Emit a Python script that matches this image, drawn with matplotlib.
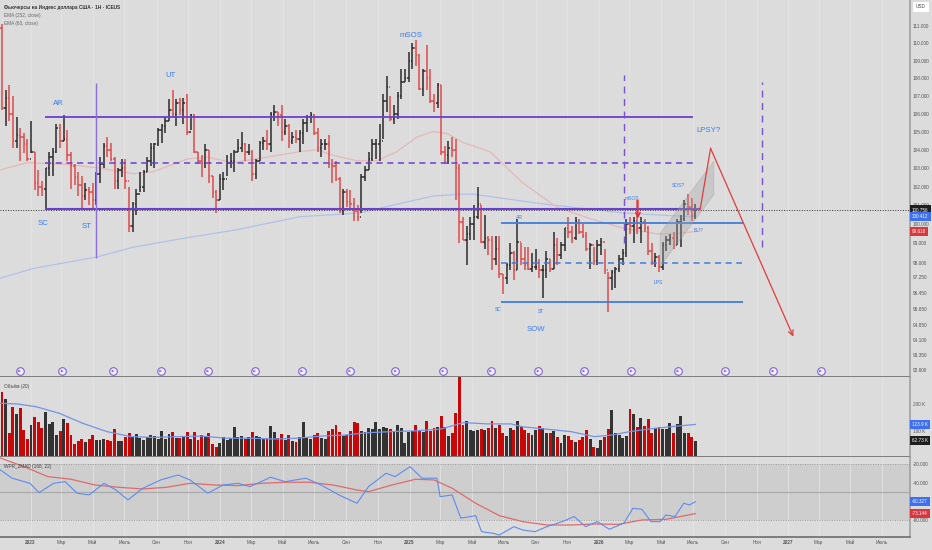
import numpy as np
import matplotlib
matplotlib.use("Agg")
import matplotlib.pyplot as plt
from matplotlib.patches import Polygon
from matplotlib.ticker import FixedLocator, FuncFormatter, NullLocator

plt.rcParams['font.family'] = ['Liberation Sans', 'DejaVu Sans']

# ---- weekly bars (DX futures), first bar = week of 2022-11-07 ----
first_open = 110.9
highs = [111.1, 107.3, 107.6, 107.0, 105.8, 105.2, 104.9, 104.6, 105.6, 103.9,
         102.9, 102.3, 103.0, 103.9, 104.1, 105.4, 105.4, 105.9, 105.1, 103.9,
         103.2, 102.8, 102.6, 102.2, 102.0, 102.2, 102.8, 103.6, 104.4, 104.7,
         104.4, 103.6, 103.0, 103.5, 103.5, 102.0, 101.2, 101.9, 102.8, 102.9,
         103.6, 104.4, 104.4, 105.2, 105.4, 105.8, 106.8, 107.3, 106.8, 106.9,
         106.9, 107.1, 106.0, 106.0, 103.9, 103.7, 104.3, 104.0, 102.6, 101.8,
         102.7, 102.8, 103.7, 103.8, 104.0, 104.6, 105.0, 104.4, 104.3, 104.0,
         103.5, 104.5, 104.7, 105.1, 106.1, 106.5, 106.1, 106.5, 105.7, 105.4,
         105.0, 105.1, 105.1, 105.7, 105.9, 106.1, 106.0, 105.2, 104.6, 104.6,
         104.8, 103.5, 103.4, 102.5, 101.9, 101.9, 101.8, 101.4, 101.0, 102.7,
         103.1, 103.9, 104.6, 104.6, 105.4, 107.1, 108.1, 107.0, 106.5, 107.2,
         108.5, 108.5, 109.5, 110.0, 110.2, 109.4, 108.5, 109.9, 108.5, 107.1,
         107.7, 107.6, 104.2, 104.5, 104.7, 104.6, 103.2, 100.4, 99.9, 100.4,
         101.0, 102.0, 101.0, 100.5, 99.4, 99.4, 99.4, 99.4, 97.4, 98.0,
         99.0, 98.6, 100.3, 99.0, 98.8, 98.8, 98.5, 98.7, 98.2, 97.9,
         98.6, 98.2, 99.6, 99.3, 99.1, 99.8, 100.4, 99.9, 100.4, 100.3,
         100.0, 99.6, 99.0, 98.8, 99.2, 99.3, 98.7, 97.5, 97.6, 97.8,
         98.4, 98.7, 100.3, 100.4, 100.4, 101.3, 100.4, 100.3, 99.9, 99.0,
         98.5, 98.4, 99.1, 99.4, 99.5, 99.6, 100.3, 100.5, 101.3, 101.6,
         101.4, 101.1]
lows = [106.2, 105.3, 105.6, 104.1, 104.1, 103.4, 103.8, 103.4, 103.8, 101.8,
        101.5, 101.5, 100.8, 102.6, 102.6, 103.8, 104.1, 104.5, 103.4, 101.9,
        102.1, 101.5, 100.8, 101.3, 101.0, 100.8, 101.0, 102.2, 103.0, 103.6,
        103.4, 101.9, 101.9, 102.5, 101.9, 99.6, 99.6, 100.5, 101.7, 101.7,
        102.8, 103.1, 103.0, 104.2, 104.4, 104.9, 105.6, 105.8, 105.3, 105.9,
        105.4, 104.8, 105.1, 103.8, 103.2, 102.5, 103.0, 102.2, 101.4, 100.6,
        101.3, 101.8, 102.6, 103.0, 102.8, 103.9, 103.9, 103.4, 103.7, 102.3,
        102.4, 103.4, 104.0, 104.0, 103.9, 105.6, 105.3, 104.5, 104.8, 104.1,
        104.3, 104.4, 103.9, 104.3, 105.0, 105.5, 104.8, 103.9, 103.6, 104.0,
        103.0, 102.2, 102.3, 100.6, 100.5, 100.9, 100.8, 100.2, 100.2, 100.6,
        102.3, 102.9, 103.4, 103.5, 103.4, 104.6, 106.1, 105.6, 105.4, 105.7,
        106.8, 107.8, 107.8, 108.5, 108.7, 107.3, 107.0, 107.3, 106.6, 106.1,
        106.3, 103.7, 103.2, 103.2, 103.6, 101.3, 99.0, 99.2, 97.9, 99.2,
        99.2, 100.3, 99.0, 98.7, 98.4, 97.6, 97.9, 97.2, 96.4, 96.9,
        97.6, 97.1, 97.6, 97.9, 97.6, 97.6, 97.5, 97.6, 97.2, 96.2,
        97.2, 97.5, 97.7, 97.9, 98.2, 98.6, 99.3, 99.0, 99.2, 99.5,
        99.3, 98.6, 97.7, 97.9, 97.9, 98.4, 97.4, 95.5, 96.6, 96.7,
        97.5, 97.9, 98.3, 99.5, 99.0, 99.5, 99.0, 99.6, 98.4, 97.9,
        97.8, 97.5, 97.6, 98.6, 98.9, 98.7, 98.9, 98.8, 100.2, 100.5,
        100.2, 100.3]
closes = [106.3, 106.9, 106.0, 104.5, 104.8, 104.7, 104.3, 103.5, 103.9, 102.2,
          102.0, 101.9, 103.0, 103.6, 103.9, 105.2, 104.5, 104.6, 103.7, 103.1,
          102.5, 102.1, 101.5, 101.8, 101.7, 101.3, 102.7, 103.2, 104.2, 104.0,
          103.5, 102.3, 102.9, 103.0, 102.3, 99.9, 101.1, 101.6, 102.0, 102.8,
          103.4, 104.1, 104.3, 105.1, 105.3, 105.6, 106.2, 106.0, 106.6, 106.2,
          106.6, 105.0, 105.9, 103.9, 103.4, 103.3, 104.0, 102.6, 101.7, 101.3,
          102.4, 102.4, 103.3, 103.4, 103.9, 104.1, 104.3, 103.9, 103.9, 102.7,
          103.4, 104.4, 104.5, 104.3, 106.0, 106.1, 105.9, 105.0, 105.3, 104.5,
          104.7, 104.6, 104.9, 105.5, 105.8, 105.9, 104.9, 104.1, 104.3, 104.3,
          103.2, 103.1, 102.4, 100.7, 101.7, 101.2, 101.1, 100.7, 100.4, 102.5,
          102.9, 103.5, 104.3, 104.3, 104.5, 106.7, 107.5, 105.7, 106.0, 107.0,
          107.8, 108.0, 109.0, 109.7, 109.3, 107.4, 108.4, 108.0, 106.7, 106.6,
          107.6, 103.9, 103.7, 104.1, 104.0, 103.0, 100.1, 99.2, 99.5, 100.0,
          100.4, 101.1, 99.1, 99.3, 99.2, 98.2, 98.7, 97.4, 97.2, 97.9,
          98.5, 97.6, 99.1, 98.2, 97.9, 97.7, 97.8, 97.8, 97.6, 97.6,
          98.2, 97.7, 98.9, 98.4, 98.9, 99.8, 99.6, 99.3, 100.2, 99.6,
          99.4, 98.7, 98.9, 98.1, 98.9, 99.1, 97.6, 97.2, 97.5, 97.7,
          98.2, 98.5, 100.0, 99.9, 100.2, 99.8, 100.1, 99.8, 98.6, 98.1,
          98.3, 97.8, 98.9, 99.2, 99.3, 98.9, 100.1, 100.3, 101.1, 100.9,
          100.5, 100.756]
volumes = [245, 221, 93, 191, 163, 187, 103, 70, 121, 153,
           134, 109, 171, 126, 132, 83, 100, 143, 128, 84,
           50, 63, 70, 58, 70, 85, 65, 65, 70, 65,
           63, 106, 60, 63, 78, 91, 75, 88, 73, 65,
           78, 84, 82, 70, 100, 70, 88, 94, 74, 72,
           78, 94, 68, 94, 65, 84, 78, 93, 49, 40,
           55, 75, 65, 74, 113, 75,
           82, 70, 75, 95, 80, 78, 70, 72, 118, 95,
           72, 88, 65, 85, 60, 58, 75, 134, 78, 70,
           85, 90, 72, 68, 100, 105, 122, 95, 80, 86,
           100, 134, 128, 100, 95, 110, 105, 134, 105, 115,
           110, 105, 100, 120, 110, 55, 95, 100, 122, 100,
           95, 138, 100, 110, 115,
           157, 115, 80, 93, 166, 320, 122, 137, 103, 99,
           103, 106, 103, 109, 138, 109, 122, 91, 82, 109,
           103, 137, 113, 103, 91, 84, 103, 118, 109, 91,
           91, 98, 78, 55, 84, 80, 65, 59, 65, 78,
           103, 68, 38, 34, 65, 78, 106, 178, 91, 84,
           72, 80, 181, 162, 115, 149, 118, 145, 91, 109,
           113, 106, 106, 128, 93, 126, 157, 93, 91, 78,
           62.73]

# ---- indicator lines (bar index, value) ----
ema252_idx = [-0.55, 8.5, 26.2, 36.1, 51.0, 64.2, 82.1, 98.6, 109.6, 118.7, 126.2, 129.8, 148.2, 171.1, 184.8, 191]
ema252 = [97.2, 97.7, 98.3, 98.8, 99.3, 99.7, 100.4, 100.6, 101.1, 101.5, 101.6, 101.6, 101.1, 100.6, 100.45, 100.412]
ema63_idx = [-0.55, 6.9, 17.9, 27.0, 36.1, 41.6, 51.0, 56.5, 63.6, 73.0, 82.1, 86.8, 91.2, 97.8,
             103.3, 108.8, 114.3, 118.7, 122.6, 127.0, 134.4, 143.5, 152.9, 162.0, 171.1, 180.4, 184.8, 191]
ema63 = [102.9, 103.3, 103.2, 103.0, 102.7, 102.8, 103.5, 103.6, 103.3, 103.6, 103.9, 104.0, 103.7, 103.4,
         103.4, 103.9, 104.7, 105.0, 104.9, 104.4, 103.9, 102.2, 100.9, 100.3, 99.8, 99.5, 99.5, 99.618]

vma_idx = [-0.55, 4.4, 9.4, 15.8, 22.3, 28.9, 35.5, 42.0, 48.5, 55.1, 61.7, 68.3, 74.8, 81.3, 87.9, 94.5,
           101.0, 107.5, 114.0, 120.7, 127.2, 133.7, 140.2, 143.5, 150.1, 156.7, 163.2, 168.0, 173.0, 179.6, 186.2, 191.0]
vma = [204, 201, 191, 166, 128, 97, 78, 75, 78, 80, 72, 72, 69, 72, 80, 84,
       93, 97, 100, 106, 131, 126, 126, 115, 106, 97, 78, 84, 97, 109, 118, 123.9]

wpr_idx = [-0.5, 2.8, 7.7, 10.2, 14.2, 17.4, 20.7, 24.0, 28.1, 31.4, 34.7, 38.8, 43.7, 48.5, 51.8, 56.7,
           60.9, 65.0, 68.3, 74.0, 78.0, 83.7, 87.9, 92.8, 97.8, 101.0, 105.8, 108.3, 112.4, 115.7, 119.8,
           120.7, 124.0, 126.4, 130.5, 132.1, 135.4, 137.0, 141.0, 143.5, 146.8, 150.1, 154.3, 157.6, 160.8,
           164.0, 167.3, 171.3, 173.8, 176.3, 178.8, 181.3, 182.9, 185.4, 187.8, 189.4, 191.0]
wpr = [-26, -35, -40.5, -50.6, -40.5, -38.7, -51.2, -53, -40.5, -47.7, -58.4, -45.8, -36.9, -31.5, -36.9, -51.2,
       -42.3, -40.5, -44.1, -34, -38.7, -35, -42.3, -53, -62, -44, -29.7, -33.3, -22.6, -35, -35,
       -54.9, -53, -78, -75.3, -92.6, -94.4, -96.2, -87.2, -90.8, -92.6, -87.2, -81.8, -76.3, -87.2,
       -81.8, -90, -83.5, -67.4, -68.5, -81.8, -81.8, -74.6, -76.3, -62, -63.8, -60.327]
wma_idx = [-0.5, 6.1, 12.6, 19.0, 25.6, 32.2, 38.8, 45.3, 51.8, 58.4, 65.0, 71.5, 78.0, 84.6, 91.2, 97.8,
           101.0, 107.4, 114.0, 119.0, 124.0, 130.5, 137.0, 143.5, 150.1, 156.7, 163.2, 169.7, 176.3, 182.9, 191.0]
wma = [-13.2, -22.6, -33.3, -36.1, -42.3, -44.8, -46.6, -44.8, -40.5, -42.3, -43, -40.5, -39.4, -39.4, -42.3, -47.7,
       -49.5, -42.3, -36.1, -36.9, -45.8, -62, -75.3, -81.8, -85.4, -85.4, -84.3, -84.7, -80, -79.3, -73.144]

event_idx = [4.85, 16.6, 30.6, 43.7, 56.7, 69.6, 82.6, 95.8, 108.4, 121.5, 134.6, 147.7, 160.3, 173.4,
             186.2, 199.3, 212.4, 225.5]

tick_dates = ["2023-01-01", "2023-03-01", "2023-05-01", "2023-07-01", "2023-09-01", "2023-11-01",
              "2024-01-01", "2024-03-01", "2024-05-01", "2024-07-01", "2024-09-01", "2024-11-01",
              "2025-01-01", "2025-03-01", "2025-05-01", "2025-07-01", "2025-09-01", "2025-11-01",
              "2026-01-01", "2026-03-01", "2026-05-01", "2026-07-01", "2026-09-01", "2026-11-01",
              "2027-01-01", "2027-03-01", "2027-05-01", "2027-07-01"]
tick_labels = ["2023", "Мар", "Май", "Июль", "Сен", "Ноя",
               "2024", "Мар", "Май", "Июль", "Сен", "Ноя",
               "2025", "Мар", "Май", "Июль", "Сен", "Ноя",
               "2026", "Мар", "Май", "Июль", "Сен", "Ноя",
               "2027", "Мар", "Май", "Июль"]
price_ticks = [111, 110, 109, 108, 107, 106, 105, 104, 103, 102, 101, 100, 99, 98,
               97.25, 96.45, 95.65, 94.85, 94.1, 93.35, 92.6]

# ---- colours ----
BG = '#dcdcdc'
GRID = '#e4e4e4'
UP = '#2b2b2b'
DN = '#e04a4a'
VUP = '#333333'
VDN = '#c80808'
PURPLE = '#6a3fcf'
BLUE_LN = '#3f7ddc'
BLUE_TX = '#3b7cf0'
RED = '#e03c3c'

W, H = 932, 550
fig = plt.figure(figsize=(W / 100, H / 100), dpi=100, facecolor=BG)
right = 910 / W
ax_p = fig.add_axes([0, 1 - 377 / H, right, 377 / H])
ax_v = fig.add_axes([0, 1 - 457.3 / H, right, 80.3 / H])
ax_w = fig.add_axes([0, 1 - 536.7 / H, right, 79.4 / H])

start = np.datetime64("2022-11-07")
tick_pos = [(np.datetime64(d) - start).astype(int) / 7.0 for d in tick_dates]

for ax in (ax_p, ax_v, ax_w):
    ax.set_facecolor(BG)
    ax.set_xlim(-0.551, 250.14)
    for s in ('left', 'top'):
        ax.spines[s].set_visible(False)
    ax.spines['right'].set_color('#a0a0a0')
    ax.spines['right'].set_linewidth(1.2)
    ax.spines['bottom'].set_color('#7d7d7d')
    ax.spines['bottom'].set_linewidth(1.4)
    ax.set_xticks(tick_pos)
    ax.grid(axis='x', color=GRID, lw=0.6, zorder=0)
    ax.set_axisbelow(True)
    ax.yaxis.tick_right()
    ax.tick_params(axis='y', length=0, labelsize=3.4, colors='#555555', pad=2.2)
    ax.tick_params(axis='x', length=0, labelbottom=False)

n = len(closes)
x = np.arange(n)
opens = [first_open] + closes[:-1]
up = np.array(closes) >= np.array(opens)
cols = [UP if u else DN for u in up]
vcols = [VUP if u else VDN for u in up]


def tag(ax, val, txt, fc):
    ax.annotate(txt, xy=(1, val), xycoords=ax.get_yaxis_transform(), xytext=(1.4, 0),
                textcoords='offset points', ha='left', va='center', fontsize=3.3, color='white',
                bbox=dict(boxstyle='square,pad=0.45', fc=fc, ec='none'), annotation_clip=False, zorder=10)


# ---- price panel ----
ax_p.set_yscale('log')
ax_p.set_ylim(92.28, 112.53)
ax_p.yaxis.set_major_locator(FixedLocator(price_ticks))
ax_p.yaxis.set_minor_locator(NullLocator())
ax_p.yaxis.set_major_formatter(FuncFormatter(lambda v, _: f"{v:.3f}"))

ax_p.plot(ema252_idx, ema252, color='#b1c1ea', lw=0.9, zorder=1)
ax_p.plot(ema63_idx, ema63, color='#e6b8b8', lw=0.9, zorder=1)
ax_p.axhline(closes[-1], color='#333333', ls=(0, (1, 1.6)), lw=0.7, zorder=2)

ax_p.vlines(x, lows, highs, colors=cols, lw=1.1, zorder=3)
ax_p.hlines(opens, x - 0.42, x, colors=cols, lw=1.1, zorder=3)
ax_p.hlines(closes, x, x + 0.42, colors=cols, lw=1.1, zorder=3)

# Wyckoff drawings
ax_p.hlines(105.83, 11.85, 190.4, color=PURPLE, lw=1.3, zorder=4)
ax_p.hlines(103.26, 11.85, 190.4, color=PURPLE, lw=1.1, ls=(0, (4, 3)), zorder=4)
ax_p.hlines(100.80, 11.85, 192.3, color=PURPLE, lw=1.5, zorder=4)
ax_p.vlines(25.9, 98.25, 107.72, color='#8c6fd8', lw=1.0, zorder=4)
ax_p.vlines([171.4, 209.3], [99.02, 98.83], [108.17, 107.8], color='#7a52d4', lw=1.0,
            ls=(0, (5, 4)), zorder=4)
ax_p.hlines([100.05, 95.98], 137.5, 204.1, color=BLUE_LN, lw=1.3, zorder=4)
ax_p.hlines(97.98, 137.5, 203.8, color=BLUE_LN, lw=1.1, ls=(0, (4, 3)), zorder=4)

ax_p.add_patch(Polygon([(181.3, 97.81), (181.3, 99.52), (196.1, 103.39), (196.1, 101.57)], closed=True,
                       fc='#a4a4a4', alpha=0.35, ec='#8c8c8c', lw=0.5, zorder=4))
ax_p.plot([192.3, 195.2], [100.76, 104.08], color=RED, lw=0.9, zorder=5)
ax_p.annotate('', xy=(218.0, 94.26), xytext=(195.2, 104.08),
              arrowprops=dict(arrowstyle='->', color=RED, lw=0.9, mutation_scale=9, shrinkA=0, shrinkB=0),
              zorder=5)
ax_p.annotate('', xy=(175.2, 100.31), xytext=(175.2, 101.27),
              arrowprops=dict(arrowstyle='->', color='#d93030', lw=1.0, mutation_scale=8, shrinkA=0, shrinkB=0),
              zorder=5)

big = [("AR", 15.5, 106.57), ("SC", 11.4, 100.05), ("ST", 23.3, 99.91), ("UT", 46.3, 108.17),
       ("mSOS", 112.6, 110.47), ("SOW", 147.0, 94.64), ("LPSY?", 194.6, 105.05)]
small = [("AR", 142.5, 100.37), ("SC", 136.6, 95.62), ("ST", 148.5, 95.50), ("mSOS", 173.6, 101.35),
         ("SOS?", 186.3, 102.07), ("BU?", 191.8, 99.70), ("LPS", 180.8, 97.0)]
for t, xi, yi in big:
    ax_p.text(xi, yi, t, color=BLUE_TX, fontsize=5.6, ha='center', va='center', zorder=6)
for t, xi, yi in small:
    ax_p.text(xi, yi, t, color=BLUE_TX, fontsize=3.6, ha='center', va='center', zorder=6)

ax_p.scatter(event_idx, [92.57] * len(event_idx), s=30, fc='#f3f0ff', ec='#8262d6', lw=0.8, zorder=6,
             clip_on=False)
ax_p.scatter(event_idx, [92.57] * len(event_idx), s=4, marker='>', fc='#8262d6', ec='none', zorder=7,
             clip_on=False)

ax_p.text(0.004, 1 - 7.3 / 377, "Фьючерсы на Индекс доллара США · 1Н · ICEUS", transform=ax_p.transAxes,
          fontsize=3.4, color='#333333', va='center', fontweight='bold')
ax_p.text(0.004, 1 - 15.7 / 377, "EMA (252, close)", transform=ax_p.transAxes, fontsize=3.4,
          color='#666666', va='center')
ax_p.text(0.004, 1 - 24 / 377, "EMA (63, close)", transform=ax_p.transAxes, fontsize=3.4,
          color='#666666', va='center')

tag(ax_p, closes[-1], f"{closes[-1]:.3f}", '#1e1e1e')
tag(ax_p, ema252[-1], f"{ema252[-1]:.3f}", '#3d6ff0')
tag(ax_p, ema63[-1], f"{ema63[-1]:.3f}", '#d9363e')

# ---- volume panel ----
ax_v.bar(x, volumes, width=0.8, color=vcols, edgecolor='none', zorder=2)
ax_v.plot(vma_idx, vma, color='#7393e8', lw=0.9, zorder=3)
ax_v.set_ylim(0, 303)
ax_v.set_yticks([100, 200])
ax_v.yaxis.set_major_formatter(FuncFormatter(lambda v, _: f"{int(v)} K"))
ax_v.text(0.004, 0.88, "Объём (20)", transform=ax_v.transAxes, fontsize=3.4, color='#444444', va='center')
tag(ax_v, vma[-1], f"{vma[-1]:.1f} K", '#3d6ff0')
tag(ax_v, volumes[-1], f"{volumes[-1]:.2f} K", '#1e1e1e')

# ---- WPR panel ----
ax_w.set_ylim(-98, -12.5)
ax_w.axhspan(-80, -20, color='#cecece', zorder=0.5, lw=0)
ax_w.axhline(-20, color='#9c9c9c', ls=(0, (1, 1.5)), lw=0.7, zorder=1)
ax_w.axhline(-80, color='#9c9c9c', ls=(0, (1, 1.5)), lw=0.7, zorder=1)
ax_w.axhline(-50, color='#ababab', lw=0.9, zorder=1)
ax_w.plot(wma_idx, wma, color='#e06a6a', lw=0.9, zorder=3)
ax_w.plot(wpr_idx, wpr, color='#5d8cf0', lw=0.8, zorder=4)
ax_w.set_yticks([-20, -40, -60, -80])
ax_w.yaxis.set_major_formatter(FuncFormatter(lambda v, _: f"{v:.3f}"))
ax_w.text(0.004, 0.89, "WPR_2MAD (168, 22)", transform=ax_w.transAxes, fontsize=3.4, color='#444444',
          va='center')
tag(ax_w, wpr[-1], f"{wpr[-1]:.3f}", '#3d6ff0')
tag(ax_w, wma[-1], f"{wma[-1]:.3f}", '#d9363e')

ax_w.tick_params(axis='x', labelbottom=True, labelsize=3.4, colors='#555555', pad=2.6)
ax_w.set_xticklabels(tick_labels)
for lab in ax_w.get_xticklabels():
    if lab.get_text().isdigit():
        lab.set_fontweight('bold')

fig.text(921 / W, 1 - 7 / H, "USD", ha='center', va='center', fontsize=3.4, color='#444444',
         bbox=dict(boxstyle='square,pad=0.6', fc='white', ec='none'))

fig.savefig("out.png", dpi=100, facecolor=BG)
